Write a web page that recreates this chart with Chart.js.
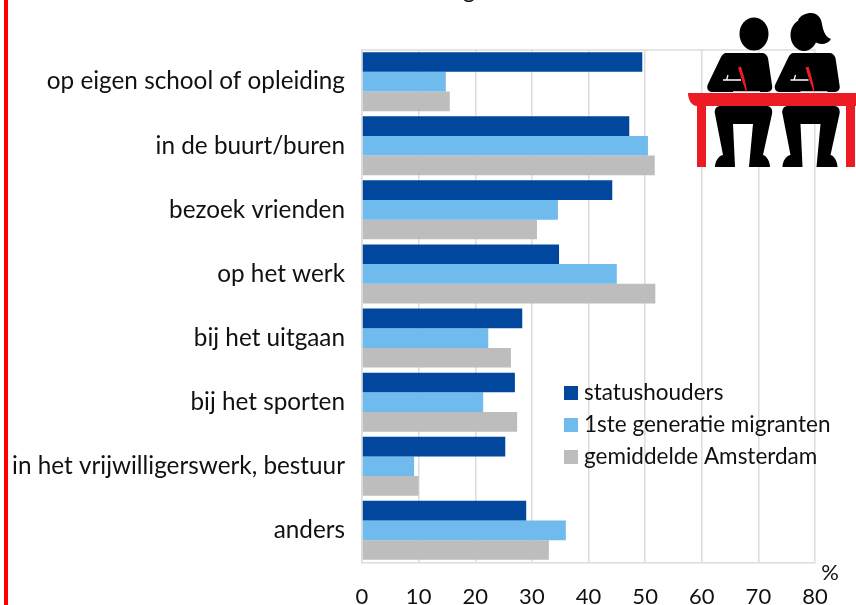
<!DOCTYPE html>
<html><head><meta charset="utf-8">
<style>html,body{margin:0;padding:0;background:#fff;overflow:hidden}
#w{position:relative;width:856px;height:605px}
canvas{position:absolute;left:0;top:0}
#bar{position:absolute;left:4px;top:0;width:3.5px;height:605px;background:#ff0000}
#ic{position:absolute;left:670px;top:0}</style>
<script src="https://cdn.jsdelivr.net/npm/chart.js@4"></script></head>
<body><div id="w"><canvas id="c" width="856" height="605"></canvas><div id="bar"></div>
<svg id="ic" width="186" height="180" viewBox="0 0 186 180">
<defs>
<g id="person">
<path fill="#000" d="M56 53H92c3 0 5 2 6 5l4 27c1 4-1 7-5 7H42c-4 0-6-4-4-8l13-27c1-2 3-4 5-4z"/>
<path fill="#000" d="M50 106H97c4 0 6 4 5 8l-9 41c4 1 7 7 7 12H79l4-43H63l2 43H45c0-5 3-11 8-12l-8-41c-1-4 1-8 5-8z"/>
<path fill="none" stroke="#fff" stroke-width="1.3" d="M53 80H71M58 75l-1.5 5M63 92H90"/>
<path fill="#ed1c24" d="M68 67.500l3-1c2 7 5 16 6 25h-1c-3-8-6-17-8-24z"/>
</g>
</defs>
<ellipse cx="84" cy="34" rx="14.500" ry="16.500"/>
<ellipse cx="134" cy="35" rx="13.500" ry="16"/>
<path d="M128 20c3-5 8-7 13-7 6 0 10 4 11 11 1 6 3 13 9 15-3 5-9 6-14 4-3-1-6-10-10-14z"/>
<use href="#person"/><use href="#person" transform="translate(67.500 0)"/>
<path fill="#ed1c24" d="M18 93H186V106H185V167H176V106H36V167H27V106C22 106 18 100 18 93z"/>
</svg></div>
<script>
const categories=["op eigen school of opleiding","in de buurt/buren","bezoek vrienden","op het werk","bij het uitgaan","bij het sporten","in het vrijwilligerswerk, bestuur","anders"];
const statushouders=[49.5,47.2,44.2,34.8,28.3,27,25.3,29];
const migranten=[14.8,50.5,34.6,45,22.3,21.4,9.2,36];
const amsterdam=[15.5,51.7,30.9,51.8,26.3,27.4,10,33];
const seriesNames=["statushouders","1ste generatie migranten","gemiddelde Amsterdam"];
const xTicks=[0,10,20,30,40,50,60,70,80];
const seriesColors=['#00479d','#70bbee','#bdbdbd'];
const FONT="Lato, 'Open Sans', sans-serif";
const place={id:'place',
beforeDraw(ch){const l=ch.legend;const w=l.right-l.left,h=l.bottom-l.top;l.left=554.5;l.right=554.5+w;l.top=372.25;l.bottom=372.25+h;},
beforeDatasetsDraw(ch){const c=ch.ctx,a=ch.chartArea;c.save();c.strokeStyle='#dcdcdc';c.lineWidth=1.5;c.beginPath();c.moveTo(a.left,50);c.lineTo(a.right,50);c.stroke();c.restore();},
afterDraw(ch){const c=ch.ctx;c.save();
c.fillStyle="#111";c.textAlign="center";c.textBaseline="alphabetic";
c.font="22px "+FONT;c.fillText("%",830,580);
c.font="24px "+FONT;c.fillText("g",469,-2);
seriesColors.forEach((col,i)=>{c.fillStyle=col;c.fillRect(564,386+32*i,14,14);});
c.restore();}};
new Chart(document.getElementById('c'),{type:'bar',
data:{labels:categories,datasets:[
{label:seriesNames[0],data:statushouders,backgroundColor:seriesColors[0]},
{label:seriesNames[1],data:migranten,backgroundColor:seriesColors[1]},
{label:seriesNames[2],data:amsterdam,backgroundColor:seriesColors[2]}]},
plugins:[place],
options:{indexAxis:'y',responsive:false,animation:false,
layout:{padding:{top:49.6,right:41,left:0,bottom:0}},
datasets:{bar:{categoryPercentage:0.92,barPercentage:1,borderWidth:0}},
plugins:{title:{display:false},tooltip:{enabled:false},
legend:{position:'chartArea',align:'start',labels:{boxWidth:8.75,boxHeight:14,padding:9.5,color:'#111',font:{family:FONT,size:22.5,lineHeight:1}}}},
scales:{
x:{min:0,max:80,afterFit(s){s.height=42.6;},afterBuildTicks(s){s.ticks=xTicks.map(v=>({value:v}));},
grid:{color:'#dcdcdc',lineWidth:1.5,drawTicks:false},border:{color:'#dcdcdc',width:1.5},
ticks:{color:'#111',padding:21,maxRotation:0,font:{family:FONT,size:22}}},
y:{afterFit(s){s.width=362;},grid:{display:false},border:{color:'#dcdcdc',width:1.5},
ticks:{color:'#111',padding:9,autoSkip:false,font:{family:FONT,size:24.3}}}
}}});
</script></body></html>
